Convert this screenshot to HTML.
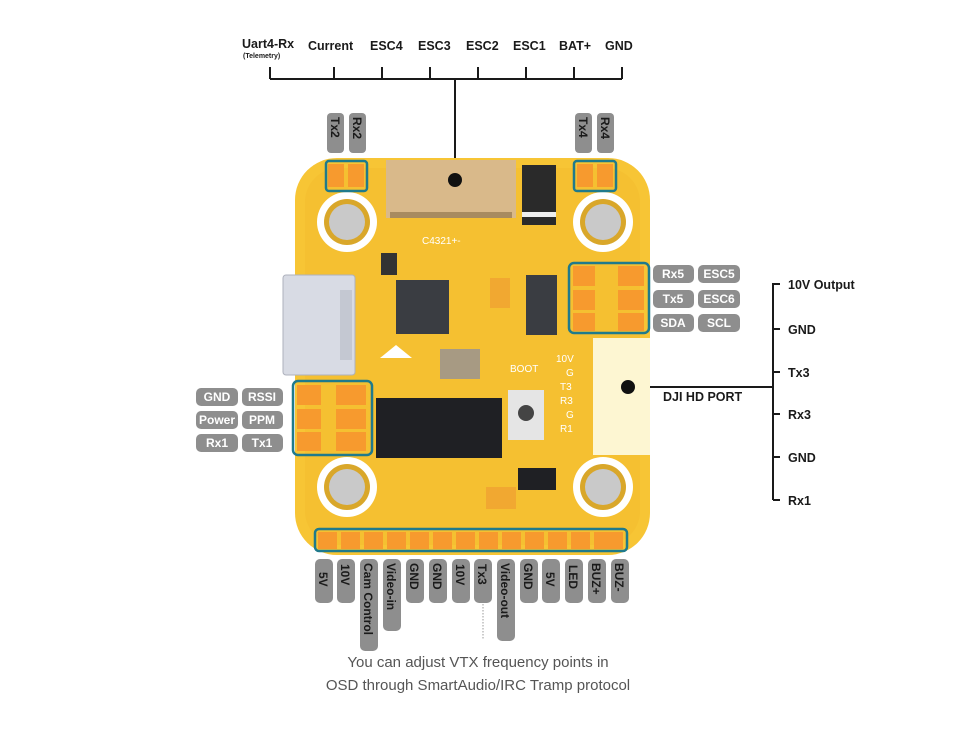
<!DOCTYPE html>
<html><head><meta charset="utf-8"><style>
body{margin:0;background:#fff}
svg{display:block}
.b{font-family:"Liberation Sans",sans-serif;font-weight:bold}
</style></head><body>
<svg width="976" height="732" viewBox="0 0 976 732" xmlns="http://www.w3.org/2000/svg">
<g class="b" font-size="12.5" fill="#1a1a1a">
<text x="242" y="48">Uart4-Rx</text>
<text x="243" y="58" font-size="7">(Telemetry)</text>
<text x="308" y="50">Current</text>
<text x="370" y="50">ESC4</text>
<text x="418" y="50">ESC3</text>
<text x="466" y="50">ESC2</text>
<text x="513" y="50">ESC1</text>
<text x="559" y="50">BAT+</text>
<text x="605" y="50">GND</text>
</g>
<g stroke="#1a1a1a" stroke-width="2" fill="none">
<path d="M270 79H622"/>
<path d="M270 67V79M334 67V79M382 67V79M430 67V79M478 67V79M526 67V79M574 67V79M622 67V79"/>
<path d="M455 79V180"/>
<path d="M628 387H773M773 283V500M773 284H780M773 329H780M773 372H780M773 414H780M773 457H780M773 500H780"/>
</g>
<path d="M483 565V640" stroke="#999" stroke-width="1" stroke-dasharray="1.5 1.5"/>
<g class="b" font-size="12.5" fill="#1a1a1a">
<text x="788" y="289">10V Output</text>
<text x="788" y="334">GND</text>
<text x="788" y="377">Tx3</text>
<text x="788" y="419">Rx3</text>
<text x="788" y="462">GND</text>
<text x="788" y="505">Rx1</text>
<text x="663" y="401">DJI HD PORT</text>
</g>
<rect x="295" y="158" width="355" height="397" rx="42" fill="#f7c535"/>
<rect x="305" y="168" width="335" height="377" rx="34" fill="#f4bb2e" opacity="0.5"/>
<rect x="283" y="275" width="72" height="100" rx="3" fill="#d8dbe4" stroke="#aeb2bd"/>
<rect x="340" y="290" width="12" height="70" fill="#c4c8d2"/>
<rect x="386" y="160" width="130" height="58" fill="#d9b98a"/>
<rect x="390" y="212" width="122" height="6" fill="#a88b60"/>
<circle cx="455" cy="180" r="7" fill="#111"/>
<rect x="522" y="165" width="34" height="60" fill="#2a2a2a"/><rect x="522" y="212" width="34" height="5" fill="#eee"/>
<g>
<circle cx="347" cy="222" r="30" fill="#fff"/><circle cx="347" cy="222" r="23" fill="#d9a72a"/><circle cx="347" cy="222" r="18" fill="#c9c9c9"/>
<circle cx="603" cy="222" r="30" fill="#fff"/><circle cx="603" cy="222" r="23" fill="#d9a72a"/><circle cx="603" cy="222" r="18" fill="#c9c9c9"/>
<circle cx="347" cy="487" r="30" fill="#fff"/><circle cx="347" cy="487" r="23" fill="#d9a72a"/><circle cx="347" cy="487" r="18" fill="#c9c9c9"/>
<circle cx="603" cy="487" r="30" fill="#fff"/><circle cx="603" cy="487" r="23" fill="#d9a72a"/><circle cx="603" cy="487" r="18" fill="#c9c9c9"/>
</g>
<rect x="396" y="280" width="53" height="54" fill="#3a3d42"/>
<rect x="526" y="275" width="31" height="60" fill="#3a3d42"/>
<rect x="376" y="398" width="126" height="60" fill="#1f2024"/>
<rect x="440" y="349" width="40" height="30" fill="#a79a83"/>
<rect x="508" y="390" width="36" height="50" fill="#e5e5e5"/><circle cx="526" cy="413" r="8" fill="#444"/>
<rect x="518" y="468" width="38" height="22" fill="#1f2024"/>
<rect x="381" y="253" width="16" height="22" fill="#333"/>
<polygon points="396,345 412,358 380,358" fill="#fff"/>
<rect x="490" y="278" width="20" height="30" fill="#f1a831"/>
<rect x="486" y="487" width="30" height="22" fill="#f1a831"/>
<rect x="593" y="338" width="57" height="117" fill="#fdf6d2"/>
<circle cx="628" cy="387" r="7" fill="#111"/>
<g fill="#f79a2e">
<rect x="328" y="164" width="16" height="23"/><rect x="348" y="164" width="16" height="23"/>
<rect x="577" y="164" width="16" height="23"/><rect x="597" y="164" width="16" height="23"/>
<rect x="573" y="266" width="22" height="20"/><rect x="618" y="266" width="26" height="20"/>
<rect x="573" y="290" width="22" height="20"/><rect x="618" y="290" width="26" height="20"/>
<rect x="573" y="313" width="22" height="18"/><rect x="618" y="313" width="26" height="18"/>
<rect x="297" y="385" width="24" height="20"/><rect x="336" y="385" width="30" height="20"/>
<rect x="297" y="409" width="24" height="20"/><rect x="336" y="409" width="30" height="20"/>
<rect x="297" y="432" width="24" height="19"/><rect x="336" y="432" width="30" height="19"/>
</g>
<g fill="none" stroke="#1f7a8c" stroke-width="2.5">
<rect x="326" y="161" width="41" height="30" rx="3"/>
<rect x="574" y="161" width="42" height="30" rx="3"/>
<rect x="569" y="263" width="80" height="70" rx="5"/>
<rect x="293" y="381" width="79" height="74" rx="5"/>
<rect x="315" y="529" width="312" height="22" rx="4"/>
</g>
<g fill="#f79a2e">
<rect x="318" y="532" width="19" height="17"/><rect x="341" y="532" width="19" height="17"/><rect x="364" y="532" width="19" height="17"/><rect x="387" y="532" width="19" height="17"/><rect x="410" y="532" width="19" height="17"/><rect x="433" y="532" width="19" height="17"/><rect x="456" y="532" width="19" height="17"/><rect x="479" y="532" width="19" height="17"/><rect x="502" y="532" width="19" height="17"/><rect x="525" y="532" width="19" height="17"/><rect x="548" y="532" width="19" height="17"/><rect x="571" y="532" width="19" height="17"/><rect x="594" y="532" width="19" height="17"/><rect x="606" y="532" width="17" height="17"/>
</g>
<g font-family="Liberation Sans,sans-serif" font-size="10" fill="#fff">
<text x="422" y="244">C4321+-</text><text x="510" y="372">BOOT</text>
<text x="556" y="362">10V</text><text x="566" y="376">G</text><text x="560" y="390">T3</text><text x="560" y="404">R3</text><text x="566" y="418">G</text><text x="560" y="432">R1</text>
</g>
<g fill="#8e8e8e">
<rect x="327" y="113" width="17" height="40" rx="4"/><rect x="349" y="113" width="17" height="40" rx="4"/>
<rect x="575" y="113" width="17" height="40" rx="4"/><rect x="597" y="113" width="17" height="40" rx="4"/>
<rect x="653" y="265" width="41" height="18" rx="5"/><rect x="698" y="265" width="42" height="18" rx="5"/>
<rect x="653" y="290" width="41" height="18" rx="5"/><rect x="698" y="290" width="42" height="18" rx="5"/>
<rect x="653" y="314" width="41" height="18" rx="5"/><rect x="698" y="314" width="42" height="18" rx="5"/>
<rect x="196" y="388" width="42" height="18" rx="5"/><rect x="242" y="388" width="41" height="18" rx="5"/>
<rect x="196" y="411" width="42" height="18" rx="5"/><rect x="242" y="411" width="41" height="18" rx="5"/>
<rect x="196" y="434" width="42" height="18" rx="5"/><rect x="242" y="434" width="41" height="18" rx="5"/>
<rect x="315" y="559" width="18" height="44" rx="5"/>
<rect x="337" y="559" width="18" height="44" rx="5"/>
<rect x="360" y="559" width="18" height="92" rx="5"/>
<rect x="383" y="559" width="18" height="72" rx="5"/>
<rect x="406" y="559" width="18" height="44" rx="5"/>
<rect x="429" y="559" width="18" height="44" rx="5"/>
<rect x="452" y="559" width="18" height="44" rx="5"/>
<rect x="474" y="559" width="18" height="44" rx="5"/>
<rect x="497" y="559" width="18" height="82" rx="5"/>
<rect x="520" y="559" width="18" height="44" rx="5"/>
<rect x="542" y="559" width="18" height="44" rx="5"/>
<rect x="565" y="559" width="18" height="44" rx="5"/>
<rect x="588" y="559" width="18" height="44" rx="5"/>
<rect x="611" y="559" width="18" height="44" rx="5"/>
</g>
<g class="b" font-size="12" fill="#fff" text-anchor="middle">
<text x="673" y="278">Rx5</text><text x="719" y="278">ESC5</text>
<text x="673" y="303">Tx5</text><text x="719" y="303">ESC6</text>
<text x="673" y="327">SDA</text><text x="719" y="327">SCL</text>
<text x="217" y="401">GND</text><text x="262" y="401">RSSI</text>
<text x="217" y="424">Power</text><text x="262" y="424">PPM</text>
<text x="217" y="447">Rx1</text><text x="262" y="447">Tx1</text>
</g>
<g class="b" font-size="12" fill="#1a1a1a">
<text transform="translate(331,117) rotate(90)">Tx2</text>
<text transform="translate(353,117) rotate(90)">Rx2</text>
<text transform="translate(579,117) rotate(90)">Tx4</text>
<text transform="translate(601,117) rotate(90)">Rx4</text>
<text transform="translate(319,572) rotate(90)">5V</text>
<text transform="translate(341,564) rotate(90)">10V</text>
<text transform="translate(364,563) rotate(90)">Cam Control</text>
<text transform="translate(387,563) rotate(90)">Video-in</text>
<text transform="translate(410,563) rotate(90)">GND</text>
<text transform="translate(433,563) rotate(90)">GND</text>
<text transform="translate(456,564) rotate(90)">10V</text>
<text transform="translate(478,564) rotate(90)">Tx3</text>
<text transform="translate(501,563) rotate(90)">Video-out</text>
<text transform="translate(524,563) rotate(90)">GND</text>
<text transform="translate(546,572) rotate(90)">5V</text>
<text transform="translate(569,565) rotate(90)">LED</text>
<text transform="translate(592,563) rotate(90)">BUZ+</text>
<text transform="translate(615,563) rotate(90)">BUZ-</text>
</g>
<g font-family="Liberation Sans,sans-serif" font-size="15" fill="#555" text-anchor="middle">
<text x="478" y="667">You can adjust VTX frequency points in</text>
<text x="478" y="690">OSD through SmartAudio/IRC Tramp protocol</text>
</g>
</svg>
</body></html>
